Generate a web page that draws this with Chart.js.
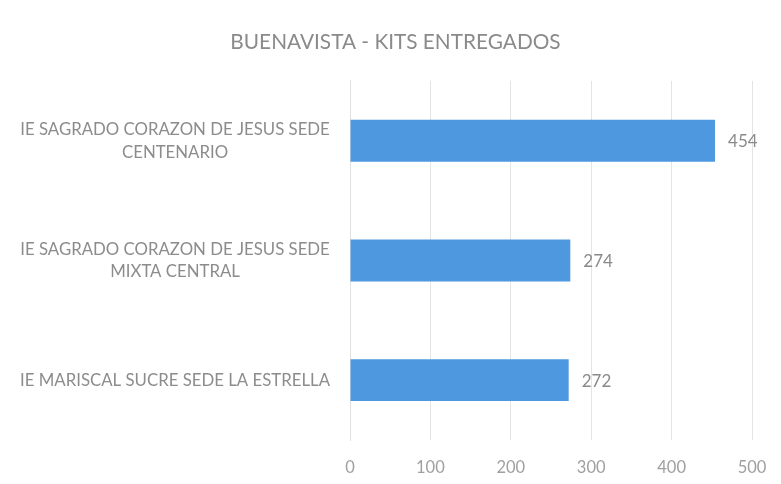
<!DOCTYPE html>
<html>
<head>
<meta charset="utf-8">
<script src="https://cdn.jsdelivr.net/npm/chart.js@4"></script>
<style>
html,body{margin:0;padding:0;background:#fff;}
#wrap{width:781px;height:484px;position:relative;}
</style>
</head>
<body>
<div id="wrap"><canvas id="c" width="781" height="484"></canvas></div>
<script>
const chartTitle = "BUENAVISTA - KITS ENTREGADOS";
const categories = [
  ["IE SAGRADO CORAZON DE JESUS SEDE", "CENTENARIO"],
  ["IE SAGRADO CORAZON DE JESUS SEDE", "MIXTA CENTRAL"],
  ["IE MARISCAL SUCRE SEDE LA ESTRELLA"]
];
const kitsValues = [454, 274, 272];
const xTicks = [0, 100, 200, 300, 400, 500];

const FONT = 'Lato, "Open Sans", sans-serif';

const valueLabels = {
  id: 'valueLabels',
  afterDatasetsDraw(chart) {
    const ctx = chart.ctx;
    const meta = chart.getDatasetMeta(0);
    ctx.save();
    ctx.font = '17px ' + FONT;
    ctx.fillStyle = '#8a8a8a';
    ctx.textAlign = 'left';
    ctx.textBaseline = 'middle';
    meta.data.forEach((bar, i) => {
      ctx.fillText(String(kitsValues[i]), bar.x + 13, bar.y + 1);
    });
    ctx.restore();
  }
};

new Chart(document.getElementById('c'), {
  type: 'bar',
  data: {
    labels: categories,
    datasets: [{
      data: kitsValues,
      backgroundColor: '#4d98de',
      borderWidth: 0,
      categoryPercentage: 1,
      barPercentage: 0.35
    }]
  },
  plugins: [valueLabels],
  options: {
    indexAxis: 'y',
    responsive: false,
    animation: false,
    devicePixelRatio: 1,
    layout: { padding: { left: 10, right: 0, top: 8, bottom: 8 } },
    plugins: {
      legend: { display: false },
      tooltip: { enabled: false },
      title: {
        display: true,
        text: chartTitle,
        color: '#8a8a8a',
        font: { family: FONT, size: 20.8, weight: 'normal' },
        padding: { top: 22, bottom: 26 }
      }
    },
    scales: {
      x: {
        min: 0,
        max: 500,
        afterBuildTicks(scale) { scale.ticks = xTicks.map(v => ({ value: v })); },
        afterFit(scale) { scale.paddingRight = 29; scale.paddingLeft = 0; scale.height = 36; },
        grid: { color: '#e4e4e4', drawTicks: false },
        border: { display: false },
        ticks: {
          color: '#a0a0a0',
          padding: 18,
          font: { family: FONT, size: 16.5 }
        }
      },
      y: {
        grid: { display: false, drawTicks: false },
        border: { display: true, color: '#e0e0e0' },
        afterFit(scale) { scale.width = 340; scale.paddingTop = 0; scale.paddingBottom = 0; },
        ticks: {
          color: '#8c8c8c',
          crossAlign: 'center',
          padding: 20,
          font: { family: FONT, size: 16.8, lineHeight: 1.35 }
        }
      }
    }
  }
});
</script>
</body>
</html>
